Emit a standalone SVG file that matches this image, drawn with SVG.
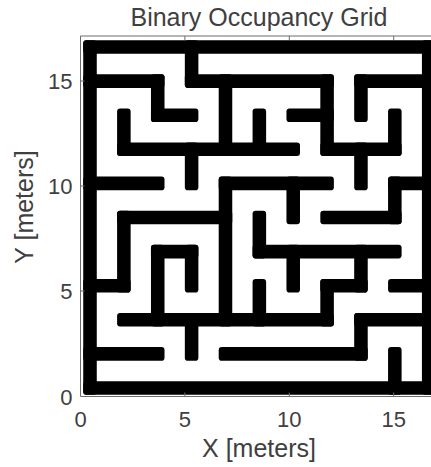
<svg xmlns="http://www.w3.org/2000/svg" width="431" height="467" viewBox="0 0 431 467">
<style>
.t { font-family: "Liberation Sans", Arial, sans-serif; fill: #404040; }
.tick { font-size: 22px; }
.lbl { font-size: 25px; }
.ax { stroke: #6b6b6b; stroke-width: 1; fill: none; }
.w rect { fill: #000; }
</style>
<rect width="431" height="467" fill="#fff"/>
<g id="maze" class="w" transform="translate(90,47) scale(33.87,34.1)">
<rect x="-0.2" y="-0.2" width="10.4" height="0.4" rx="0.09"/>
<rect x="-0.2" y="9.8" width="10.4" height="0.4" rx="0.09"/>
<rect x="-0.2" y="-0.2" width="0.4" height="10.4" rx="0.09"/>
<rect x="9.8" y="-0.2" width="0.4" height="10.4" rx="0.09"/>
<rect x="2.8" y="-0.2" width="0.4" height="1.4" rx="0.09"/>
<rect x="-0.2" y="0.8" width="2.4" height="0.4" rx="0.09"/>
<rect x="1.8" y="0.8" width="0.4" height="1.4" rx="0.09"/>
<rect x="1.8" y="1.8" width="1.4" height="0.4" rx="0.09"/>
<rect x="2.8" y="0.8" width="4.4" height="0.4" rx="0.09"/>
<rect x="7.8" y="0.8" width="2.4" height="0.4" rx="0.09"/>
<rect x="7.8" y="0.8" width="0.4" height="1.4" rx="0.09"/>
<rect x="3.8" y="0.8" width="0.4" height="2.4" rx="0.09"/>
<rect x="0.8" y="1.8" width="0.4" height="1.4" rx="0.09"/>
<rect x="0.8" y="2.8" width="5.4" height="0.4" rx="0.09"/>
<rect x="4.8" y="1.8" width="0.4" height="1.4" rx="0.09"/>
<rect x="5.8" y="1.8" width="1.4" height="0.4" rx="0.09"/>
<rect x="6.8" y="0.8" width="0.4" height="2.4" rx="0.09"/>
<rect x="6.8" y="2.8" width="2.4" height="0.4" rx="0.09"/>
<rect x="8.8" y="1.8" width="0.4" height="1.4" rx="0.09"/>
<rect x="2.8" y="2.8" width="0.4" height="1.4" rx="0.09"/>
<rect x="7.8" y="2.8" width="0.4" height="1.4" rx="0.09"/>
<rect x="-0.2" y="3.8" width="2.4" height="0.4" rx="0.09"/>
<rect x="3.8" y="3.8" width="3.4" height="0.4" rx="0.09"/>
<rect x="3.8" y="3.8" width="0.4" height="4.4" rx="0.09"/>
<rect x="5.8" y="3.8" width="0.4" height="1.4" rx="0.09"/>
<rect x="8.8" y="3.8" width="1.4" height="0.4" rx="0.09"/>
<rect x="8.8" y="3.8" width="0.4" height="1.4" rx="0.09"/>
<rect x="6.8" y="4.8" width="2.4" height="0.4" rx="0.09"/>
<rect x="0.8" y="4.8" width="3.4" height="0.4" rx="0.09"/>
<rect x="0.8" y="4.8" width="0.4" height="2.4" rx="0.09"/>
<rect x="-0.2" y="6.8" width="1.4" height="0.4" rx="0.09"/>
<rect x="4.8" y="4.8" width="0.4" height="1.4" rx="0.09"/>
<rect x="4.8" y="5.8" width="4.4" height="0.4" rx="0.09"/>
<rect x="5.8" y="5.8" width="0.4" height="1.4" rx="0.09"/>
<rect x="7.8" y="5.8" width="0.4" height="1.4" rx="0.09"/>
<rect x="6.8" y="6.8" width="1.4" height="0.4" rx="0.09"/>
<rect x="6.8" y="6.8" width="0.4" height="1.4" rx="0.09"/>
<rect x="1.8" y="5.8" width="1.4" height="0.4" rx="0.09"/>
<rect x="2.8" y="5.8" width="0.4" height="1.4" rx="0.09"/>
<rect x="1.8" y="5.8" width="0.4" height="2.4" rx="0.09"/>
<rect x="8.8" y="6.8" width="1.4" height="0.4" rx="0.09"/>
<rect x="4.8" y="6.8" width="0.4" height="1.4" rx="0.09"/>
<rect x="0.8" y="7.8" width="6.4" height="0.4" rx="0.09"/>
<rect x="2.8" y="7.8" width="0.4" height="1.4" rx="0.09"/>
<rect x="7.8" y="7.8" width="2.4" height="0.4" rx="0.09"/>
<rect x="7.8" y="7.8" width="0.4" height="1.4" rx="0.09"/>
<rect x="3.8" y="8.8" width="4.4" height="0.4" rx="0.09"/>
<rect x="-0.2" y="8.8" width="2.4" height="0.4" rx="0.09"/>
<rect x="8.8" y="8.8" width="0.4" height="1.4" rx="0.09"/>
</g>
<g id="axes">
<path class="ax" d="M431,36 H80.5 V396.5 H431"/>
<path class="ax" d="M184.9,396.5 v-4 M289.3,396.5 v-4 M393.7,396.5 v-4 M184.9,36 v4 M289.3,36 v4 M393.7,36 v4 M80.5,291 h4 M80.5,186 h4 M80.5,81 h4"/>
</g>
<g id="labels" class="t">
<text class="lbl" x="259" y="26" text-anchor="middle">Binary Occupancy Grid</text>
<text class="tick" x="80.5" y="427" text-anchor="middle">0</text>
<text class="tick" x="184.9" y="427" text-anchor="middle">5</text>
<text class="tick" x="289.3" y="427" text-anchor="middle">10</text>
<text class="tick" x="393.7" y="427" text-anchor="middle">15</text>
<text class="tick" x="72.5" y="404.8" text-anchor="end">0</text>
<text class="tick" x="72.5" y="299.3" text-anchor="end">5</text>
<text class="tick" x="72.5" y="194.3" text-anchor="end">10</text>
<text class="tick" x="72.5" y="89.3" text-anchor="end">15</text>
<text class="lbl" x="259" y="457" text-anchor="middle">X [meters]</text>
<text class="lbl" transform="translate(33.3,207) rotate(-90)" text-anchor="middle">Y [meters]</text>
</g>
</svg>
